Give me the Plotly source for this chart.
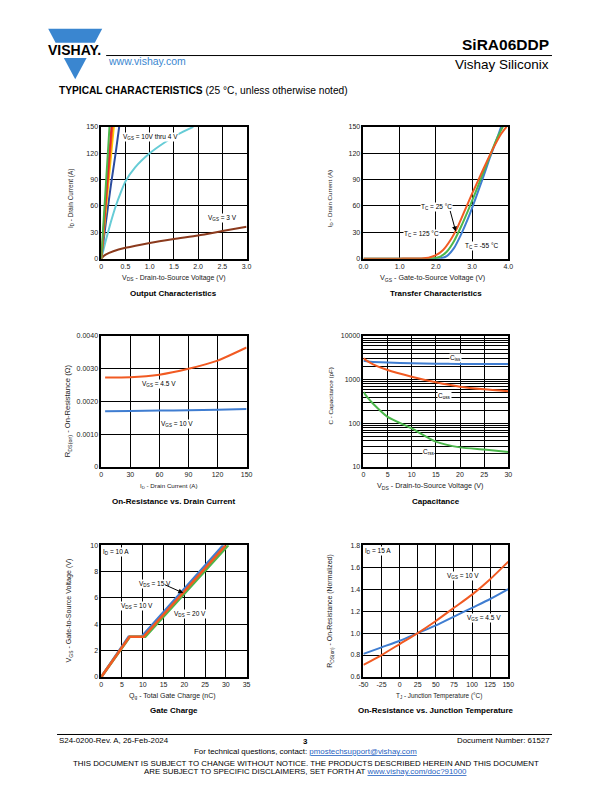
import plotly.graph_objects as go

W, H = 612, 792
FONT = "Liberation Sans, Arial, sans-serif"

# ---------------- data ----------------
# Output characteristics (VDS in V, ID in A)
oc_vgs10_x = [0, 0.05, 0.1, 0.15, 0.17]
oc_vgs10_y = [0, 44, 88, 132, 150]
oc_vgs8_x = [0, 0.05, 0.1, 0.15, 0.21]
oc_vgs8_y = [0, 36, 72, 107, 150]
oc_vgs6_x = [0, 0.05, 0.1, 0.15, 0.2, 0.23]
oc_vgs6_y = [0, 33, 66, 98, 131, 150]
oc_vgs5_x = [0, 0.05, 0.1, 0.15, 0.2, 0.26]
oc_vgs5_y = [0, 29, 58, 87, 116, 150]
oc_vgs45_x = [0, 0.1, 0.2, 0.3, 0.37]
oc_vgs45_y = [0, 43, 84, 121, 150]
oc_vgs4_x = [0, 0.1, 0.2, 0.3, 0.4, 0.5, 0.7, 1.0, 1.3, 1.6, 1.9]
oc_vgs4_y = [0, 22, 42, 60, 75, 88, 104, 120, 132, 142, 150]
oc_vgs3_x = [0, 0.05, 0.1, 0.25, 0.5, 1.0, 1.5, 2.0, 2.5, 3.0]
oc_vgs3_y = [0, 3, 5, 8.5, 12.4, 18, 22.5, 26.5, 31.5, 36.5]

# Transfer characteristics (VGS in V, ID in A)
tc125_x = [0, 1.0, 1.6, 1.8, 2.0, 2.2, 2.4, 2.6, 2.8, 3.0, 3.2, 3.4, 3.6, 3.8, 3.95]
tc125_y = [0, 0.1, 0.4, 1.2, 4, 10, 21, 36, 55, 74, 92, 110, 127, 142, 150]
tc25_x = [0, 1.0, 1.9, 2.1, 2.3, 2.5, 2.7, 2.9, 3.1, 3.3, 3.5, 3.7, 3.85]
tc25_y = [0, 0.05, 0.3, 2, 8, 20, 37, 56, 76, 97, 118, 138, 150]
tcm55_x = [0, 1.0, 2.1, 2.3, 2.5, 2.7, 2.9, 3.1, 3.3, 3.5, 3.7, 3.8]
tcm55_y = [0, 0, 0.3, 3, 12, 28, 47, 69, 92, 116, 138, 150]

# On-resistance vs drain current (ID in A, RDS(on) in ohm)
rid_x = [4, 30, 60, 90, 120, 150]
rid_45 = [0.00273, 0.00274, 0.00282, 0.00300, 0.00325, 0.00365]
rid_10 = [0.00170, 0.00171, 0.00172, 0.00173, 0.00175, 0.00177]

# Capacitance (VDS in V, C in pF)
cap_v = [0, 1, 2, 5, 10, 15, 20, 25, 30]
ciss = [2700, 2600, 2550, 2470, 2380, 2330, 2300, 2280, 2270]
coss = [3100, 2600, 2250, 1660, 1170, 870, 690, 600, 540]
crss = [515, 370, 280, 140, 76, 38, 28, 25, 22]

# Gate charge (Qg in nC, VGS in V)
qg_10 = [0, 6.6, 9.7, 29.4]
qg_15 = [0, 6.8, 10.2, 30.0]
qg_20 = [0, 6.9, 10.6, 30.6]
vgs_qg = [0, 3.05, 3.05, 10]

# On-resistance vs junction temperature (normalized)
tj = [-50, -25, 0, 25, 50, 75, 100, 125, 150]
rn_10 = [0.71, 0.80, 0.90, 1.00, 1.11, 1.23, 1.35, 1.49, 1.65]
rn_45 = [0.81, 0.87, 0.93, 1.00, 1.07, 1.15, 1.23, 1.31, 1.40]

# ---------------- colours ----------------
ORANGE = "#F15A22"
BLUE = "#3F7DD1"
GREEN = "#4CB84C"
CYAN = "#66CCD6"
BROWN = "#8B3A1D"
DBLUE = "#2B4C9E"
YELLOW = "#FFCC00"
RED = "#E8262A"
VBLUE = "#3A86D0"
LINK = "#1f5fbf"


def px(x):
    return x / W


def py(y):
    return 1 - y / H


fig = go.Figure()


def line(x, y, color, xa, ya, width=2, shape="spline"):
    fig.add_trace(go.Scatter(x=x, y=y, mode="lines", xaxis=xa, yaxis=ya,
                             line=dict(color=color, width=width, shape=shape,
                                       smoothing=0.6 if shape == "spline" else None),
                             showlegend=False, hoverinfo="skip"))


line(oc_vgs3_x, oc_vgs3_y, BROWN, "x", "y")
line(oc_vgs4_x, oc_vgs4_y, CYAN, "x", "y")
line(oc_vgs45_x, oc_vgs45_y, DBLUE, "x", "y")
line(oc_vgs5_x, oc_vgs5_y, YELLOW, "x", "y")
line(oc_vgs6_x, oc_vgs6_y, ORANGE, "x", "y")
line(oc_vgs8_x, oc_vgs8_y, RED, "x", "y")
line(oc_vgs10_x, oc_vgs10_y, GREEN, "x", "y")
line(tcm55_x, tcm55_y, BLUE, "x2", "y2")
line(tc25_x, tc25_y, GREEN, "x2", "y2")
line(tc125_x, tc125_y, ORANGE, "x2", "y2")
line(rid_x, rid_45, ORANGE, "x3", "y3")
line(rid_x, rid_10, BLUE, "x3", "y3")
line(cap_v, ciss, BLUE, "x4", "y4")
line(cap_v, coss, ORANGE, "x4", "y4")
line(cap_v, crss, GREEN, "x4", "y4")
line(qg_10, vgs_qg, BLUE, "x5", "y5", width=2.6, shape="linear")
line(qg_20, vgs_qg, GREEN, "x5", "y5", width=2.6, shape="linear")
line(qg_15, vgs_qg, ORANGE, "x5", "y5", width=2.6, shape="linear")
line(tj, rn_45, BLUE, "x6", "y6")
line(tj, rn_10, ORANGE, "x6", "y6")

# ---------------- axes ----------------
cols = [(98, 246), (365, 512.5)]
rows = [(124, 257), (335, 467), (546, 679)]


def axstyle(**kw):
    d = dict(showline=True, linecolor="black", linewidth=1.6, mirror=True,
             showgrid=True, gridcolor="black", gridwidth=1, zeroline=False,
             ticks="", tickfont=dict(family=FONT, size=7, color="#222"),
             fixedrange=True)
    d.update(kw)
    return d


lay = {}
specs = [
    (1, 0, 0, [0, 3.0], [0, 0.5, 1, 1.5, 2, 2.5, 3], ["0", "0.5", "1.0", "1.5", "2.0", "2.5", "3.0"],
     [0, 150], [0, 30, 60, 90, 120, 150], ["0", "30", "60", "90", "120", "150"], "linear"),
    (2, 1, 0, [0, 4.0], [0, 1, 2, 3, 4], ["0.0", "1.0", "2.0", "3.0", "4.0"],
     [0, 150], [0, 30, 60, 90, 120, 150], ["0", "30", "60", "90", "120", "150"], "linear"),
    (3, 0, 1, [0, 150], [0, 30, 60, 90, 120, 150], ["0", "30", "60", "90", "120", "150"],
     [0, 0.004], [0, 0.001, 0.002, 0.003, 0.004], ["0", "0.0010", "0.0020", "0.0030", "0.0040"], "linear"),
    (4, 1, 1, [0, 30], [0, 5, 10, 15, 20, 25, 30], ["0", "5", "10", "15", "20", "25", "30"],
     [1, 4], [10, 100, 1000, 10000], ["10", "100", "1000", "10000"], "log"),
    (5, 0, 2, [0, 35], [0, 5, 10, 15, 20, 25, 30, 35], ["0", "5", "10", "15", "20", "25", "30", "35"],
     [0, 10], [0, 2, 4, 6, 8, 10], ["0", "2", "4", "6", "8", "10"], "linear"),
    (6, 1, 2, [-50, 150], [-50, -25, 0, 25, 50, 75, 100, 125, 150],
     ["-50", "-25", "0", "25", "50", "75", "100", "125", "150"],
     [0.6, 1.8], [0.6, 0.8, 1.0, 1.2, 1.4, 1.6, 1.8], ["0.6", "0.8", "1.0", "1.2", "1.4", "1.6", "1.8"], "linear"),
]

minor_vals = [m * d for d in (10, 100, 1000) for m in range(2, 10)]

for idx, c, r, xr, xt, xtt, yr, yt, ytt, ytype in specs:
    s = "" if idx == 1 else str(idx)
    x0, x1 = cols[c]
    y0, y1 = rows[r]
    lay["xaxis" + s] = axstyle(domain=[px(x0), px(x1)], range=xr, tickmode="array",
                               tickvals=xt, ticktext=xtt, anchor="y" + s)
    yk = axstyle(domain=[py(y1), py(y0)], range=yr, tickmode="array",
                 tickvals=yt, ticktext=ytt, anchor="x" + s, type=ytype)
    if ytype == "log":
        yk["minor"] = dict(tickmode="array", tickvals=minor_vals, showgrid=True,
                           gridcolor="black", gridwidth=0.8, ticks="")
    lay["yaxis" + s] = yk

ann = []


def txt(x, y, t, size=7, bold=False, xanchor="center", yanchor="middle", color="black",
        xref="paper", yref="paper", angle=0, bg=None):
    if bold:
        t = "<b>" + t + "</b>"
    a = dict(x=x, y=y, text=t, showarrow=False, xref=xref, yref=yref,
             xanchor=xanchor, yanchor=yanchor, textangle=angle,
             font=dict(family=FONT, size=size, color=color))
    if bg:
        a["bgcolor"] = bg
        a["borderpad"] = 0
    ann.append(a)


titles = ["Output Characteristics", "Transfer Characteristics",
          "On-Resistance vs. Drain Current", "Capacitance",
          "Gate Charge", "On-Resistance vs. Junction Temperature"]
title_y = [292, 502, 713]
xtitles = ["V<sub>DS</sub> - Drain-to-Source Voltage (V)", "V<sub>GS</sub> - Gate-to-Source Voltage (V)",
           "I<sub>D</sub> - Drain Current (A)", "V<sub>DS</sub> - Drain-to-Source Voltage (V)",
           "Q<sub>g</sub> - Total Gate Charge (nC)", "T<sub>J</sub> - Junction Temperature (°C)"]
ytitles = ["I<sub>D</sub> - Drain Current (A)", "I<sub>D</sub> - Drain Current (A)",
           "R<sub>DS(on)</sub> - On-Resistance (Ω)", "C - Capacitance (pF)",
           "V<sub>GS</sub> - Gate-to-Source Voltage (V)", "R<sub>DS(on)</sub> - On-Resistance (Normalized)"]
xt_x = [172, 435, 167, 433, 171, 442]
xt_y = [276, 276, 486, 486.5, 698, 698]
xt_size = [7.0, 7.2, 6.2, 7.2, 7.0, 6.4]
yt_x = [67, 331, 65, 331, 65, 331]
yt_y = [196, 197, 410, 396, 612, 613]
yt_size = [6.4, 6.2, 7.6, 6.2, 7.1, 6.9]

for i in range(6):
    c, r = i % 2, i // 2
    x0, x1 = cols[c]
    cx = (x0 + x1) / 2
    txt(px(cx), py(title_y[r]), titles[i], size=8, bold=True)
    txt(px(xt_x[i]), py(xt_y[i]), xtitles[i], size=xt_size[i], color="#222")
    txt(px(yt_x[i]), py(yt_y[i]), ytitles[i], size=yt_size[i], angle=-90, color="#222")

L = 6.5
txt(1.02, 139, "V<sub>GS</sub> = 10V thru 4 V", size=L, xref="x", yref="y", bg="white")
txt(2.5, 46, "V<sub>GS</sub> = 3 V", size=L, xref="x", yref="y", bg="white")
txt(2.03, 59, "T<sub>C</sub> = 25 °C", size=L, xref="x2", yref="y2", bg="white")
txt(1.6, 28, "T<sub>C</sub> = 125 °C", size=L, xref="x2", yref="y2", bg="white")
txt(3.25, 14, "T<sub>C</sub> = -55 °C", size=L, xref="x2", yref="y2", bg="white")
txt(60, 0.00254, "V<sub>GS</sub> = 4.5 V", size=L, xref="x3", yref="y3", bg="white")
txt(78, 0.00132, "V<sub>GS</sub> = 10 V", size=L, xref="x3", yref="y3", bg="white")
txt(19, 3.485, "C<sub>iss</sub>", size=L, xref="x4", yref="y4", bg="white")
txt(16.8, 2.63, "C<sub>oss</sub>", size=L, xref="x4", yref="y4", bg="white")
txt(13.5, 1.35, "C<sub>rss</sub>", size=L, xref="x4", yref="y4", bg="white")
txt(3.5, 9.45, "I<sub>D</sub> = 10 A", size=L, xref="x5", yref="y5", bg="white")
txt(13.0, 7.05, "V<sub>DS</sub> = 15 V", size=L, xref="x5", yref="y5", bg="white")
txt(8.7, 5.36, "V<sub>DS</sub> = 10 V", size=L, xref="x5", yref="y5", bg="white")
txt(21.3, 4.8, "V<sub>DS</sub> = 20 V", size=L, xref="x5", yref="y5", bg="white")
txt(-30, 1.75, "I<sub>D</sub> = 15 A", size=L, xref="x6", yref="y6", bg="white")
txt(88, 1.52, "V<sub>GS</sub> = 10 V", size=L, xref="x6", yref="y6", bg="white")
txt(117, 1.14, "V<sub>GS</sub> = 4.5 V", size=L, xref="x6", yref="y6", bg="white")

ann.append(dict(x=2.55, y=31, xref="x2", yref="y2", text="", showarrow=True, ax=-6, ay=-22,
                arrowhead=2, arrowsize=1, arrowwidth=1, arrowcolor="black", standoff=0))
ann.append(dict(x=19.75, y=6.37, xref="x5", yref="y5", text="", showarrow=True, ax=-20, ay=-9,
                arrowhead=2, arrowsize=1, arrowwidth=1, arrowcolor="black", standoff=0))

# header
txt(px(556), py(41), "SiRA06DDP", size=15.5, bold=True, xanchor="right")
txt(px(556), py(61), "Vishay Siliconix", size=13.5, xanchor="right")
txt(px(103), py(58), "www.vishay.com", size=10.5, xanchor="left", color=VBLUE)
txt(px(71), py(46.5), "VISHAY.", size=14, bold=True)
txt(px(53), py(87.5), "<b>TYPICAL CHARACTERISTICS</b> (25 °C, unless otherwise noted)",
    size=10.2, xanchor="left")

# footer
FS = 7.9
txt(px(53), py(743), "S24-0200-Rev. A, 26-Feb-2024", size=FS, xanchor="left")
txt(px(306), py(744), "3", size=FS, bold=True)
txt(px(557), py(743), "Document Number: 61527", size=FS, xanchor="right")
txt(0.5, py(754.5), "For technical questions, contact: <span style='color:" + LINK + "'><u>pmostechsupport@vishay.com</u></span>",
    size=FS)
txt(0.5, py(766), "THIS DOCUMENT IS SUBJECT TO CHANGE WITHOUT NOTICE. THE PRODUCTS DESCRIBED HEREIN AND THIS DOCUMENT",
    size=FS)
txt(0.5, py(774.5), "ARE SUBJECT TO SPECIFIC DISCLAIMERS, SET FORTH AT <span style='color:" + LINK + "'><u>www.vishay.com/doc?91000</u></span>",
    size=FS)

shapes = [
    dict(type="line", xref="paper", yref="paper", x0=px(103), x1=px(557), y0=py(52), y1=py(52),
         line=dict(color="black", width=1)),
    dict(type="line", xref="paper", yref="paper", x0=px(53), x1=px(557), y0=py(737), y1=py(737),
         line=dict(color="black", width=1)),
]
tx0, tx1, ttop, apx, apy = 44, 99, 25, 71.5, 76


def half(yv):
    return (tx1 - tx0) / 2 * (apy - yv) / (apy - ttop)


y_a, y_b = 39.0, 54.5
p1 = "M {},{} L {},{} L {},{} L {},{} Z".format(
    px(tx0), py(ttop), px(tx1), py(ttop), px(apx + half(y_a)), py(y_a), px(apx - half(y_a)), py(y_a))
p2 = "M {},{} L {},{} L {},{} Z".format(
    px(apx - half(y_b)), py(y_b), px(apx + half(y_b)), py(y_b), px(apx), py(apy))
for p in (p1, p2):
    shapes.append(dict(type="path", xref="paper", yref="paper", path=p,
                       fillcolor=VBLUE, line=dict(width=0), layer="below"))

fig.update_layout(width=W, height=H, margin=dict(l=0, r=0, t=0, b=0),
                  paper_bgcolor="white", plot_bgcolor="white", showlegend=False,
                  annotations=ann, shapes=shapes, **lay)

fig.write_html("out.html", config={"displayModeBar": False},
               post_script="document.body.style.margin='0';document.body.style.overflow='hidden';")
